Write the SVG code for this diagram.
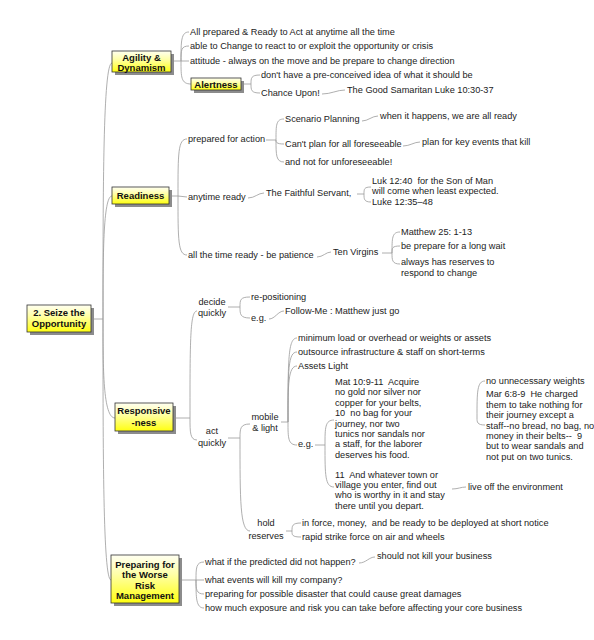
<svg xmlns="http://www.w3.org/2000/svg" width="594" height="640" viewBox="0 0 594 640">
<defs>
<linearGradient id="yg" x1="0" y1="0" x2="0" y2="1">
<stop offset="0" stop-color="#fffff2"/>
<stop offset="0.4" stop-color="#ffffa8"/>
<stop offset="1" stop-color="#ffff10"/>
</linearGradient>
<style>
.t{font-family:"Liberation Sans",Arial,sans-serif;font-size:9.2px;fill:#222}
.b{font-family:"Liberation Sans",Arial,sans-serif;font-size:9.5px;font-weight:bold;fill:#111;text-anchor:middle}
.c{text-anchor:middle}
.box{fill:url(#yg);stroke:#333;stroke-width:0.8}
.sh{fill:#8c8c8c}
.ln{fill:none;stroke:#9a9a9a;stroke-width:0.8}
</style>
</defs>
<rect width="594" height="640" fill="#ffffff"/>

<g id="connectors" class="ln">
<path d="M91,319 L103,319 M103,319 C103,191 103,63 112,63 M103,319 C103,257 103,196 112,196 M103,319 C103,368 103,418 115,418 M103,319 C103,450 103,580 111,580"/>
<path d="M171,61 L181,61 M181,61 C181,41 181,32 189,32 M181,61 C181,50 181,46 189,46 M181,61 L189,61 M181,61 C181,77 181,84 191,84"/>
<path d="M241,84 L251,84 M251,84 C251,78 251,75 260,75 M251,84 C251,90 251,93 260,93"/>
<path d="M322,94 C331,94 337,90 345,90"/>
<path d="M169,196 L178,196 M178,196 C178,153 178,139 187,139 M178,196 L187,197 M178,196 C178,240 178,255 187,255"/>
<path d="M266,140 L276,140 M276,140 C276,125 276,119 284,119 M276,140 C276,142 276,144 284,144 M276,140 C276,155 276,162 284,162"/>
<path d="M362,121 C368,121 372,116 378,116"/>
<path d="M403,146 C410,146 414,142 420,142"/>
<path d="M248,198 C255,198 258,193 264,193"/>
<path d="M357,194 L364,194 M364,194 C364,189 364,187 371,187 M364,194 C364,199 364,202 371,202"/>
<path d="M317,257 C323,257 326,252 331,252"/>
<path d="M382,253 L392,253 M392,253 C392,238 392,232 400,232 M392,253 C392,248 392,246 400,246 M392,253 C392,260 392,264 400,264"/>
<path d="M173,418 L190,418 M190,418 C190,340 190,311 197,311 M190,418 C190,432 190,440 197,440"/>
<path d="M228,307 L240,307 M240,307 C240,300 240,297 250,297 M240,307 C240,314 240,318 250,318"/>
<path d="M269,319 C275,319 278,311 284,311"/>
<path d="M228,438 L240,438 M240,438 C240,429 240,424 250,424 M240,438 C240,500 240,531 250,531"/>
<path d="M281,422 L288,422 M288,422 C288,360 288,338 297,338 M288,422 C288,370 288,352 297,352 M288,422 C288,385 288,366 297,366 M288,422 C288,438 288,445 297,445"/>
<path d="M286,531 L292,531 M292,531 C292,526 292,523 301,523 M292,531 C292,535 292,537 301,537"/>
<path d="M315,445 L325,445 M325,445 C325,428 325,420 334,420 M325,445 C325,475 325,487 334,487"/>
<path d="M477,418 C477,392 477,381 485,381 M477,418 C477,422 477,425 485,425"/>
<path d="M452,489 C458,489 461,487 466,487"/>
<path d="M179,580 L196,580 M196,580 C196,568 196,562 204,562 M196,580 L204,580 M196,580 C196,589 196,594 204,594 M196,580 C196,598 196,608 204,608"/>
<path d="M359,563 C366,563 369,557 375,557"/>
</g>

<g id="root">
<rect class="sh" x="30" y="308" width="64" height="27"/>
<rect class="box" x="27" y="305" width="64" height="27"/>
<text class="b" x="59" y="315.5">2. Seize the</text>
<text class="b" x="59" y="326.5">Opportunity</text>
</g>

<g id="agility">
<rect class="sh" x="115" y="54" width="59" height="21"/>
<rect class="box" x="112" y="51" width="59" height="21"/>
<text class="b" x="141.5" y="60.5">Agility &amp;</text>
<text class="b" x="141.5" y="70.5">Dynamism</text>
</g>
<g id="ag1"><text class="t" x="190" y="35">All prepared &amp; Ready to Act at anytime all the time</text></g>
<g id="ag2"><text class="t" x="190" y="49">able to Change to react to or exploit the opportunity or crisis</text></g>
<g id="ag3"><text class="t" x="190" y="64">attitude - always on the move and be prepare to change direction</text></g>
<g id="alertness">
<rect class="sh" x="194" y="81" width="50" height="12"/>
<rect class="box" x="191" y="78" width="50" height="12"/>
<text class="b" x="216" y="87.5">Alertness</text>
</g>
<g id="al1"><text class="t" x="261" y="78">don't have a pre-conceived idea of what it should be</text></g>
<g id="al2"><text class="t" x="261" y="96">Chance Upon!</text></g>
<g id="al3"><text class="t" x="347" y="93">The Good Samaritan Luke 10:30-37</text></g>

<g id="readiness">
<rect class="sh" x="115" y="190" width="57" height="17"/>
<rect class="box" x="112" y="187" width="57" height="17"/>
<text class="b" x="140.5" y="199">Readiness</text>
</g>
<g id="rd1"><text class="t" x="188" y="142">prepared for action</text></g>
<g id="rd2"><text class="t" x="188" y="200">anytime ready</text></g>
<g id="rd3"><text class="t" x="188" y="258">all the time ready - be patience</text></g>
<g id="rd1a"><text class="t" x="285" y="122">Scenario Planning</text></g>
<g id="rd1b"><text class="t" x="285" y="147">Can't plan for all foreseeable</text></g>
<g id="rd1c"><text class="t" x="285" y="165">and not for unforeseeable!</text></g>
<g id="rd1a1"><text class="t" x="380" y="119">when it happens, we are all ready</text></g>
<g id="rd1b1"><text class="t" x="422" y="145">plan for key events that kill</text></g>
<g id="rd2a"><text class="t" x="266" y="196">The Faithful Servant,</text></g>
<g id="rd2a1"><text class="t" xml:space="preserve"><tspan x="372" y="184">Luk 12:40  for the Son of Man</tspan><tspan x="372" y="193.5">will come when least expected.</tspan></text></g>
<g id="rd2a2"><text class="t" x="372" y="205">Luke 12:35–48</text></g>
<g id="rd3a"><text class="t" x="333" y="255">Ten Virgins</text></g>
<g id="rd3a1"><text class="t" x="401" y="235">Matthew 25: 1-13</text></g>
<g id="rd3a2"><text class="t" x="401" y="249">be prepare for a long wait</text></g>
<g id="rd3a3"><text class="t"><tspan x="401" y="265">always has reserves to</tspan><tspan x="401" y="275.5">respond to change</tspan></text></g>

<g id="responsive">
<rect class="sh" x="118" y="406" width="58" height="28"/>
<rect class="box" x="115" y="403" width="58" height="28"/>
<text class="b" x="144" y="414">Responsive</text>
<text class="b" x="144" y="425.5">-ness</text>
</g>
<g id="rs1"><text class="t c"><tspan x="212" y="305">decide</tspan><tspan x="212" y="316">quickly</tspan></text></g>
<g id="rs1a"><text class="t" x="251" y="300">re-positioning</text></g>
<g id="rs1b"><text class="t" x="251" y="321">e.g.</text></g>
<g id="rs1b1"><text class="t" x="285" y="314">Follow-Me : Matthew just go</text></g>
<g id="rs2"><text class="t c"><tspan x="212" y="434">act</tspan><tspan x="212" y="446">quickly</tspan></text></g>
<g id="rs2a"><text class="t c"><tspan x="265" y="420">mobile</tspan><tspan x="265" y="430.5">&amp; light</tspan></text></g>
<g id="rs2a1"><text class="t" x="298" y="341">minimum load or overhead or weights or assets</text></g>
<g id="rs2a2"><text class="t" x="298" y="355">outsource infrastructure &amp; staff on short-terms</text></g>
<g id="rs2a3"><text class="t" x="298" y="369">Assets Light</text></g>
<g id="rs2a4"><text class="t" x="298" y="447">e.g.</text></g>
<g id="mat"><text class="t" xml:space="preserve"><tspan x="335" y="385">Mat 10:9-11  Acquire</tspan><tspan x="335" y="395.4">no gold nor silver nor</tspan><tspan x="335" y="405.8">copper for your belts,</tspan><tspan x="335" y="416.2">10  no bag for your</tspan><tspan x="335" y="426.6">journey, nor two</tspan><tspan x="335" y="437">tunics nor sandals nor</tspan><tspan x="335" y="447.4">a staff, for the laborer</tspan><tspan x="335" y="457.8">deserves his food.</tspan></text></g>
<g id="v11"><text class="t" xml:space="preserve"><tspan x="335" y="477.6">11  And whatever town or</tspan><tspan x="335" y="488">village you enter, find out</tspan><tspan x="335" y="498.4">who is worthy in it and stay</tspan><tspan x="335" y="508.8">there until you depart.</tspan></text></g>
<g id="live"><text class="t" x="468" y="490">live off the environment</text></g>
<g id="noweights"><text class="t" x="486" y="384">no unnecessary weights</text></g>
<g id="mar"><text class="t" xml:space="preserve"><tspan x="486" y="397.3">Mar 6:8-9  He charged</tspan><tspan x="486" y="407.7">them to take nothing for</tspan><tspan x="486" y="418.1">their journey except a</tspan><tspan x="486" y="428.5">staff--no bread, no bag, no</tspan><tspan x="486" y="438.9">money in their belts--  9</tspan><tspan x="486" y="449.3">but to wear sandals and</tspan><tspan x="486" y="459.7">not put on two tunics.</tspan></text></g>
<g id="rs2b"><text class="t c"><tspan x="266" y="526">hold</tspan><tspan x="266" y="539">reserves</tspan></text></g>
<g id="rs2b1"><text class="t" x="302" y="526" xml:space="preserve">in force, money,  and be ready to be deployed at short notice</text></g>
<g id="rs2b2"><text class="t" x="302" y="540">rapid strike force on air and wheels</text></g>

<g id="preparing">
<rect class="sh" x="114" y="558" width="68" height="48"/>
<rect class="box" x="111" y="555" width="68" height="48"/>
<text class="b" x="145" y="567.5">Preparing for</text>
<text class="b" x="145" y="578">the Worse</text>
<text class="b" x="145" y="588.5">Risk</text>
<text class="b" x="145" y="599">Management</text>
</g>
<g id="pr1"><text class="t" x="205" y="565">what if the predicted did not happen?</text></g>
<g id="pr1a"><text class="t" x="377" y="559">should not kill your business</text></g>
<g id="pr2"><text class="t" x="205" y="583">what events will kill my company?</text></g>
<g id="pr3"><text class="t" x="205" y="597">preparing for possible disaster that could cause great damages</text></g>
<g id="pr4"><text class="t" x="205" y="611">how much exposure and risk you can take before affecting your core business</text></g>
</svg>
